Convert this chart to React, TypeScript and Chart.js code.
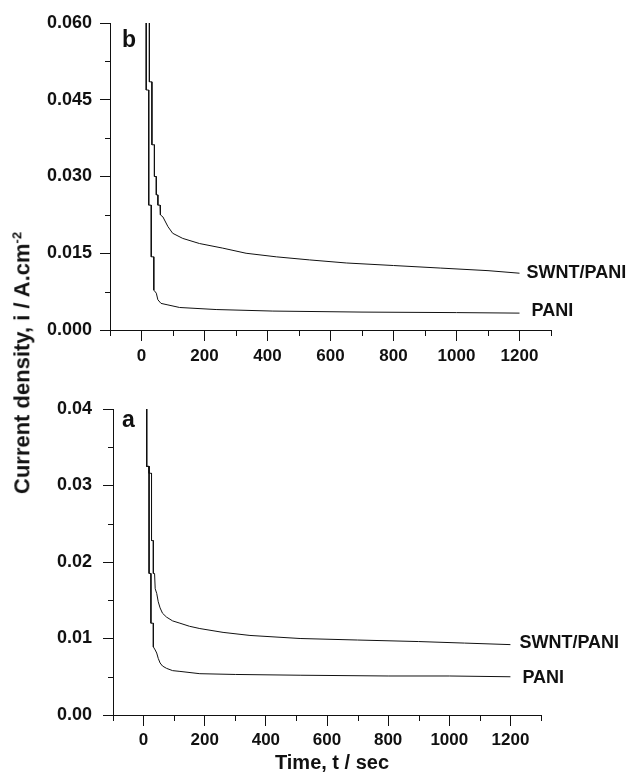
import React, { useEffect, useRef } from "react";
import { Chart, registerables } from "chart.js";

Chart.register(...registerables);

const FONT = '"Liberation Sans", Arial, Helvetica, sans-serif';
const INK = "#111111";

// ---------- Panel b (top) ----------
const timeB_SWNT = [25, 25, 33, 33, 41, 41, 47, 47, 52, 52, 59, 60, 68, 84, 99, 131, 184, 258, 332, 428, 533, 650, 800, 950, 1100, 1200];
const currentB_SWNT = [0.08, 0.0485, 0.0485, 0.0362, 0.0362, 0.03, 0.03, 0.0264, 0.0264, 0.0244, 0.0244, 0.0225, 0.0221, 0.0202, 0.0189, 0.0179, 0.0169, 0.016, 0.015, 0.0143, 0.0137, 0.0131, 0.0126, 0.0121, 0.0116, 0.0111];
const timeB_PANI = [15, 15, 23, 23, 31, 31, 39, 39, 47, 52, 62, 84, 121, 237, 417, 700, 1000, 1200];
const currentB_PANI = [0.08, 0.0469, 0.0469, 0.0244, 0.0244, 0.0143, 0.0143, 0.0078, 0.0072, 0.0059, 0.0052, 0.0049, 0.0044, 0.004, 0.0037, 0.0035, 0.0034, 0.0033];

// ---------- Panel a (bottom) ----------
const timeA_SWNT = [10, 10, 18, 18, 26, 26, 32, 32, 36, 38, 43, 48, 54, 62, 75, 95, 119, 150, 184, 260, 348, 512, 700, 900, 1050, 1200];
const currentA_SWNT = [0.06, 0.0325, 0.0325, 0.0316, 0.0316, 0.0228, 0.0228, 0.0185, 0.0185, 0.0165, 0.0159, 0.0148, 0.014, 0.0133, 0.0128, 0.0123, 0.012, 0.0116, 0.0113, 0.0108, 0.0104, 0.01, 0.0098, 0.0096, 0.0094, 0.0092];
const timeA_PANI = [10, 10, 18, 18, 24, 24, 32, 32, 38, 43, 48, 54, 62, 75, 95, 119, 184, 300, 512, 800, 1000, 1200];
const currentA_PANI = [0.06, 0.0325, 0.0325, 0.0185, 0.0185, 0.012, 0.012, 0.0089, 0.0085, 0.0081, 0.0074, 0.0068, 0.0064, 0.0061, 0.0058, 0.0057, 0.0054, 0.0053, 0.0052, 0.0051, 0.0051, 0.005];

// ---------- Axes ----------
const xTicks = [-100, 0, 100, 200, 300, 400, 500, 600, 700, 800, 900, 1000, 1100, 1200, 1300];
const xMajor = [0, 200, 400, 600, 800, 1000, 1200];
const xLabels = ["0", "200", "400", "600", "800", "1000", "1200"];

const yTicksB = [0, 0.0075, 0.015, 0.0225, 0.03, 0.0375, 0.045, 0.0525, 0.06];
const yMajorB = [0, 0.015, 0.03, 0.045, 0.06];
const yLabelsB = ["0.000", "0.015", "0.030", "0.045", "0.060"];

const yTicksA = [0, 0.005, 0.01, 0.015, 0.02, 0.025, 0.03, 0.035, 0.04];
const yMajorA = [0, 0.01, 0.02, 0.03, 0.04];
const yLabelsA = ["0.00", "0.01", "0.02", "0.03", "0.04"];

const seriesNames = ["SWNT/PANI", "PANI"];

function idxOf(arr: number[], v: number) {
  for (let i = 0; i < arr.length; i++) if (Math.abs(arr[i] - v) < 1e-9) return i;
  return -1;
}

type Series = { label: string; t: number[]; v: number[]; dx: number; dy: number };
type PanelCfg = {
  width: number;
  height: number;
  pad: { left: number; right: number; top: number; bottom: number };
  yWidth: number;
  xHeight: number;
  yMax: number;
  yTicks: number[];
  yMajor: number[];
  yLabels: string[];
  yLabelPad: number;
  xLabelPad: number;
  series: Series[];
  letter: string;
  letterDx: number;
  letterDy: number;
  letterSize: number;
};

function buildChart(canvas: HTMLCanvasElement, cfg: PanelCfg) {
  const datasets = cfg.series.map((s) => ({
    label: s.label,
    data: s.t.map((t, i) => ({ x: t, y: s.v[i] })),
    borderColor: INK,
    borderWidth: 1,
    pointRadius: 0,
    fill: false,
    tension: 0,
  }));

  const annot = {
    id: "annot",
    afterDraw(chart: any) {
      const { ctx, chartArea } = chart;
      const xs = chart.scales.x;
      const ys = chart.scales.y;
      ctx.save();
      ctx.strokeStyle = INK;
      ctx.lineWidth = 1;
      ctx.beginPath();
      xTicks.forEach((v) => {
        if (idxOf(xMajor, v) < 0) {
          const px = Math.round(xs.getPixelForValue(v)) + 0.5;
          ctx.moveTo(px, xs.top);
          ctx.lineTo(px, xs.top + 6);
        }
      });
      cfg.yTicks.forEach((v) => {
        if (idxOf(cfg.yMajor, v) < 0) {
          const py = Math.round(ys.getPixelForValue(v)) + 0.5;
          ctx.moveTo(ys.right - 5, py);
          ctx.lineTo(ys.right, py);
        }
      });
      ctx.stroke();

      ctx.fillStyle = INK;
      ctx.font = `bold 18px ${FONT}`;
      ctx.textBaseline = "middle";
      ctx.textAlign = "left";
      cfg.series.forEach((s) => {
        const n = s.t.length - 1;
        ctx.fillText(s.label, xs.getPixelForValue(s.t[n]) + s.dx, ys.getPixelForValue(s.v[n]) + s.dy);
      });
      ctx.font = `bold ${cfg.letterSize}px ${FONT}`;
      ctx.textBaseline = "alphabetic";
      ctx.fillText(cfg.letter, chartArea.left + cfg.letterDx, chartArea.top + cfg.letterDy);
      ctx.restore();
    },
  };

  return new Chart(canvas, {
    type: "line",
    data: { datasets },
    options: {
      responsive: false,
      maintainAspectRatio: false,
      animation: false,
      layout: { padding: cfg.pad },
      plugins: { legend: { display: false }, tooltip: { enabled: false }, title: { display: false } },
      scales: {
        x: {
          type: "linear",
          min: -100,
          max: 1300,
          afterBuildTicks: (s: any) => {
            s.ticks = xTicks.map((v) => ({ value: v }));
          },
          afterFit: (s: any) => {
            s.height = cfg.xHeight;
          },
          ticks: {
            autoSkip: false,
            maxRotation: 0,
            padding: cfg.xLabelPad,
            color: INK,
            font: { family: FONT, size: 17, weight: "bold" },
            callback: (v: any) => {
              const i = idxOf(xMajor, Number(v));
              return i >= 0 ? xLabels[i] : "";
            },
          },
          grid: {
            display: true,
            drawOnChartArea: false,
            drawTicks: true,
            tickLength: 11,
            tickWidth: 1,
            tickColor: (c: any) => (c.tick && idxOf(xMajor, c.tick.value) >= 0 ? INK : "rgba(0,0,0,0)"),
          },
          border: { display: true, color: INK, width: 1 },
        },
        y: {
          type: "linear",
          min: 0,
          max: cfg.yMax,
          afterBuildTicks: (s: any) => {
            s.ticks = cfg.yTicks.map((v) => ({ value: v }));
          },
          afterFit: (s: any) => {
            s.width = cfg.yWidth;
          },
          ticks: {
            autoSkip: false,
            padding: cfg.yLabelPad,
            color: INK,
            font: { family: FONT, size: 18, weight: "bold" },
            callback: (v: any) => {
              const i = idxOf(cfg.yMajor, Number(v));
              return i >= 0 ? cfg.yLabels[i] : "";
            },
          },
          grid: {
            display: true,
            drawOnChartArea: false,
            drawTicks: true,
            tickLength: 10,
            tickWidth: 1,
            tickColor: (c: any) => (c.tick && idxOf(cfg.yMajor, c.tick.value) >= 0 ? INK : "rgba(0,0,0,0)"),
          },
          border: { display: true, color: INK, width: 1 },
        },
      },
    } as any,
    plugins: [annot],
  } as any);
}

const topCfg: PanelCfg = {
  width: 630,
  height: 380,
  pad: { left: 0, right: 79, top: 23, bottom: 0 },
  yWidth: 110,
  xHeight: 50,
  yMax: 0.06,
  yTicks: yTicksB,
  yMajor: yMajorB,
  yLabels: yLabelsB,
  yLabelPad: 8,
  xLabelPad: 5,
  series: [
    { label: seriesNames[0], t: timeB_SWNT, v: currentB_SWNT, dx: 7, dy: 0 },
    { label: seriesNames[1], t: timeB_PANI, v: currentB_PANI, dx: 12, dy: -2 },
  ],
  letter: "b",
  letterDx: 12,
  letterDy: 24,
  letterSize: 23,
};

const bottomCfg: PanelCfg = {
  width: 630,
  height: 399,
  pad: { left: 0, right: 89, top: 29, bottom: 0 },
  yWidth: 113,
  xHeight: 64,
  yMax: 0.04,
  yTicks: yTicksA,
  yMajor: yMajorA,
  yLabels: yLabelsA,
  yLabelPad: 11,
  xLabelPad: 4,
  series: [
    { label: seriesNames[0], t: timeA_SWNT, v: currentA_SWNT, dx: 9, dy: -1.5 },
    { label: seriesNames[1], t: timeA_PANI, v: currentA_PANI, dx: 12, dy: 1 },
  ],
  letter: "a",
  letterDx: 9,
  letterDy: 18,
  letterSize: 23,
};

function Panel({ cfg, top }: { cfg: PanelCfg; top: number }) {
  const ref = useRef<HTMLCanvasElement | null>(null);
  useEffect(() => {
    if (!ref.current) return;
    const chart = buildChart(ref.current, cfg);
    return () => chart.destroy();
  }, []);
  return (
    <canvas
      ref={ref}
      width={cfg.width}
      height={cfg.height}
      style={{ position: "absolute", left: 0, top, width: cfg.width, height: cfg.height }}
    />
  );
}

export default function App() {
  return (
    <div style={{ position: "fixed", left: 0, top: 0, width: 630, height: 779, background: "#fff", overflow: "hidden" }}>
      <Panel cfg={topCfg} top={0} />
      <Panel cfg={bottomCfg} top={380} />
      <div
        style={{
          position: "absolute",
          left: 22,
          top: 363,
          transform: "translate(-50%, -50%) rotate(-90deg)",
          whiteSpace: "nowrap",
          fontFamily: FONT,
          fontWeight: "bold",
          fontSize: 22,
          color: INK,
          lineHeight: 1,
        }}
      >
        Current density, i / A.cm<sup style={{ fontSize: 13, verticalAlign: "super" }}>-2</sup>
      </div>
      <div
        style={{
          position: "absolute",
          left: 332,
          top: 762,
          transform: "translate(-50%, -50%)",
          whiteSpace: "nowrap",
          fontFamily: FONT,
          fontWeight: "bold",
          fontSize: 20,
          color: INK,
          lineHeight: 1,
        }}
      >
        Time, t / sec
      </div>
    </div>
  );
}
